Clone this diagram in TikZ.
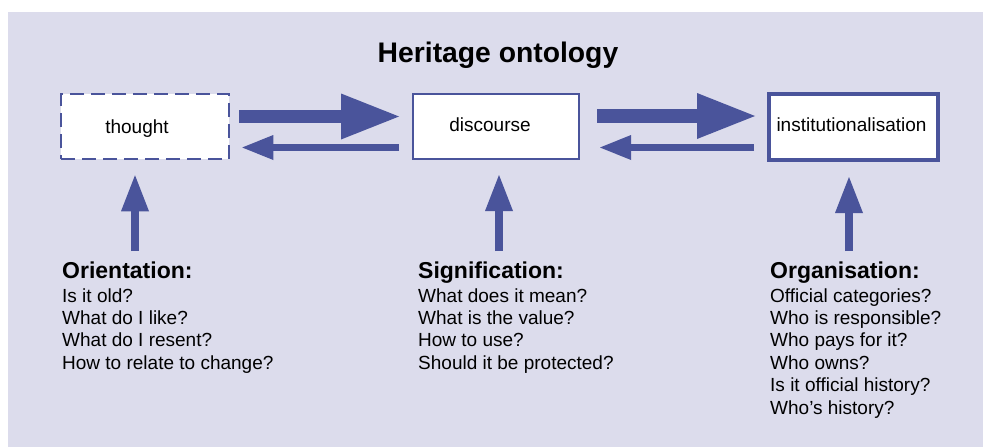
\documentclass[tikz,border=0pt]{standalone}
\usepackage{fontspec}
\setmainfont{Liberation Sans}
\usetikzlibrary{arrows.meta,calc}
\definecolor{hblue}{RGB}{74,84,155}
\definecolor{hbg}{RGB}{220,220,236}
\begin{document}
\begin{tikzpicture}[x=1pt,y=-1pt,
  box/.style={draw=hblue, fill=white, inner sep=0pt},
  boxtext/.style={font=\fontsize{19}{22}\selectfont, anchor=base, inner sep=0pt},
  head/.style={font=\bfseries\fontsize{23}{27}\selectfont, anchor=base west, inner sep=0pt},
  body/.style={font=\fontsize{19}{22.4}\selectfont, anchor=base west, inner sep=0pt},
  bigarr/.style={draw=hblue, line width=13.5pt, -{Triangle[length=58pt,width=46pt,line width=0pt]}},
  smallarr/.style={draw=hblue, line width=7pt, -{Triangle[length=31pt,width=25pt,line width=0pt]}},
  uparr/.style={draw=hblue, line width=8pt, -{Triangle[length=36pt,width=28pt,line width=0pt]}}
]
\useasboundingbox (0,0) rectangle (983,447);
\fill[hbg] (7.5,12) rectangle (983,447);

\node[font=\bfseries\fontsize{28.3}{32}\selectfont, anchor=base, inner sep=0pt] (title) at (498,62) {Heritage ontology};

\node[box, line width=2.5pt, dash pattern=on 14pt off 7pt, minimum width=168pt, minimum height=65pt] (thought) at (145,126.5) {};
\node[box, line width=2pt, minimum width=166pt, minimum height=65pt] (discourse) at (496,126.5) {};
\node[box, line width=4pt, minimum width=169pt, minimum height=66pt] (inst) at (853.5,127) {};

\node[boxtext] (thoughtt) at (137,133) {thought};
\node[boxtext] (discourset) at (490,131) {discourse};
\node[boxtext] (instt) at (851.5,131) {institutionalisation};

\draw[bigarr] ($(thought.east)+(9,-10)$) -- ($(discourse.west)+(-13,-10)$);
\draw[smallarr] ($(discourse.west)+(-13,21)$) -- ($(thought.east)+(12,21)$);
\draw[bigarr] ($(discourse.east)+(17,-10.5)$) -- ($(inst.west)+(-12,-11)$);
\draw[smallarr] ($(inst.west)+(-13,20.5)$) -- ($(discourse.east)+(20,21)$);

\coordinate (c1) at (135,251);
\coordinate (c2) at (499,251);
\coordinate (c3) at (849,251);
\draw[uparr] (c1) -- ($(thought.south)+(-10,15)$);
\draw[uparr] (c2) -- ($(discourse.south)+(3,15)$);
\draw[uparr] (c3) -- ($(inst.south)+(-4.5,15)$);

\node[head] (orient) at (62,278) {Orientation:};
\node[body] (orientq) at (62,302) {\vtop{\hbox{Is it old?}\hbox{What do I like?}\hbox{What do I resent?}\hbox{How to relate to change?}}};

\node[head] (signif) at (418,278) {Signification:};
\node[body] (signifq) at (418,302) {\vtop{\hbox{What does it mean?}\hbox{What is the value?}\hbox{How to use?}\hbox{Should it be protected?}}};

\node[head] (organ) at (770,278) {Organisation:};
\node[body] (organq) at (770,302) {\vtop{\hbox{Official categories?}\hbox{Who is responsible?}\hbox{Who pays for it?}\hbox{Who owns?}\hbox{Is it official history?}\hbox{Who’s history?}}};
\end{tikzpicture}
\end{document}
